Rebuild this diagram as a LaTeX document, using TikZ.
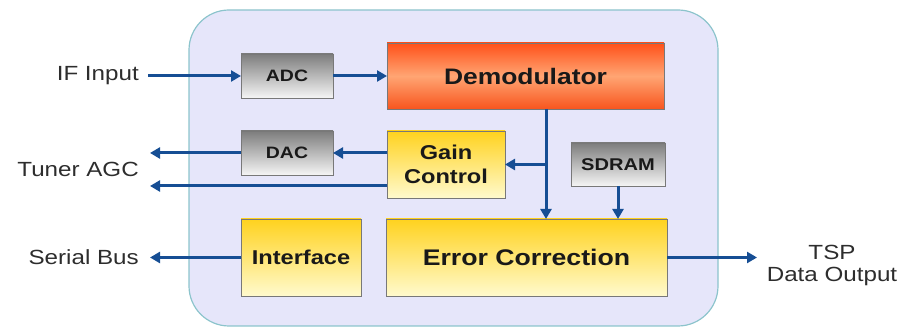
\documentclass[tikz,border=0pt]{standalone}
\usepackage{fontspec}
\setmainfont[FakeStretch=1.18]{Liberation Sans}
\usetikzlibrary{arrows.meta}
\definecolor{bgfill}{RGB}{230,230,250}
\definecolor{bgline}{RGB}{140,196,204}
\definecolor{flow}{RGB}{22,78,148}
\definecolor{boxline}{RGB}{120,120,120}
\definecolor{graytop}{RGB}{125,125,125}
\definecolor{graybot}{RGB}{245,245,245}
\definecolor{yeltop}{RGB}{255,210,30}
\definecolor{yelbot}{RGB}{255,250,205}
\definecolor{redtop}{RGB}{255,80,25}
\definecolor{redmid}{RGB}{255,165,115}
\definecolor{redbot}{RGB}{248,85,30}
\definecolor{txt}{RGB}{25,25,25}
\definecolor{sidetxt}{RGB}{45,45,45}
\begin{document}
\begin{tikzpicture}[x=1pt,y=-1pt,
  box/.style={draw=boxline, line width=0.8pt, inner sep=0pt, outer sep=0pt, align=center, text=txt, font=\bfseries},
  graybox/.style={box, top color=graytop, bottom color=graybot},
  yelbox/.style={box, top color=yeltop, bottom color=yelbot},
  redbox/.style={box, top color=redtop, bottom color=redbot, middle color=redmid},
  flow/.style={draw=flow, line width=3pt, -{Triangle[length=10pt,width=11pt]}},
  side/.style={text=sidetxt, font=\fontsize{20.5}{23}\selectfont, inner sep=0pt, align=center}
]
\useasboundingbox (0,0) rectangle (908,328);
\path[fill=bgfill, draw=bgline, line width=1.2pt, rounded corners=40pt] (189,10) rectangle (718,326);

\node[graybox, minimum width=92pt, minimum height=44pt, font=\bfseries\fontsize{16.5}{18}\selectfont] (adc) at (287,76) {ADC};
\node[graybox, minimum width=92pt, minimum height=44pt, font=\bfseries\fontsize{16.5}{18}\selectfont] (dac) at (287,153) {DAC};
\node[redbox, minimum width=277pt, minimum height=66pt, font=\bfseries\fontsize{22.4}{24}\selectfont] (demod) at (525.5,76) {Demodulator};
\node[yelbox, minimum width=118pt, minimum height=67pt, font=\bfseries\fontsize{20}{24}\selectfont] (gain) at (446,164.5) {Gain\\Control};
\node[graybox, minimum width=94pt, minimum height=43pt, font=\bfseries\fontsize{17}{18}\selectfont] (sdram) at (618,164.5) {SDRAM};
\node[yelbox, minimum width=120pt, minimum height=77pt, font=\bfseries\fontsize{20}{22}\selectfont] (iface) at (301,257.5) {Interface};
\node[yelbox, minimum width=281pt, minimum height=77pt, font=\bfseries\fontsize{22.6}{24}\selectfont] (errc) at (526.5,257.5) {Error Correction};

\node[side, anchor=east] (lif) at (139,76) {IF Input};
\node[side, anchor=east] (lagc) at (139,169) {Tuner AGC};
\node[side, anchor=east] (lser) at (139,257.5) {Serial Bus};
\node[side] (ltsp) at (832,265) {TSP\\[-1pt]Data Output};

\coordinate (ifin) at (148,76);
\coordinate (agcone) at (150,153);
\coordinate (agctwo) at (150,186);
\coordinate (serout) at (150,257.5);
\coordinate (tspout) at (757,257.5);
\coordinate (tap) at (546,164.5);

\draw[flow] (ifin) -- (adc.west);
\draw[flow] (adc.east) -- (demod.west);
\draw[flow] (gain.west |- dac.east) -- (dac.east);
\draw[flow] (dac.west) -- (agcone);
\draw[flow] (gain.west |- agctwo) -- (agctwo);
\draw[flow] (demod.south -| tap) -- (errc.north -| tap);
\draw[flow] (tap) -- (gain.east);
\draw[flow] (sdram.south) -- (sdram.south |- errc.north);
\draw[flow] (iface.west) -- (serout);
\draw[flow] (errc.east) -- (tspout);
\end{tikzpicture}
\end{document}
